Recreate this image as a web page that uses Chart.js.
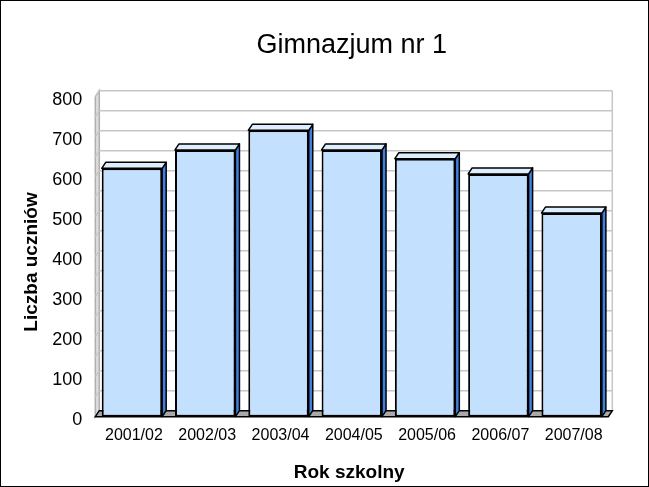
<!DOCTYPE html>
<html><head><meta charset="utf-8">
<script src="https://cdn.jsdelivr.net/npm/chart.js@4/dist/chart.umd.min.js"></script>
<style>html,body{margin:0;padding:0;background:#fff;overflow:hidden}canvas{display:block}</style>
</head><body>
<canvas id="c" width="649" height="487"></canvas>
<script>
const categories = ['2001/02', '2002/03', '2003/04', '2004/05', '2005/06', '2006/07', '2007/08'];
const students = [621, 667, 716, 667, 645, 607, 509];
const gridValues = [0, 50, 100, 150, 200, 250, 300, 350, 400, 450, 500, 550, 600, 650, 700, 750, 800];
const chartTitle = 'Gimnazjum nr 1';
const xTitle = 'Rok szkolny';
const yTitle = 'Liczba uczniów';

const FONT = "'Liberation Sans', Arial, sans-serif";
const DX = 4, DY = 6;

const box3d = {
  id: 'box3d',
  beforeDatasetsDraw(chart) {
    const {ctx, chartArea: a, scales: {y}} = chart;
    const yMax = y.max, yMin = y.min;
    const yb = v => y.getPixelForValue(v) - DY;
    const bl = a.left + DX, br = a.right + DX;
    ctx.save();
    // left wall
    ctx.beginPath();
    ctx.moveTo(a.left, y.getPixelForValue(yMin));
    ctx.lineTo(a.left, y.getPixelForValue(yMax));
    ctx.lineTo(bl, yb(yMax));
    ctx.lineTo(bl, yb(yMin));
    ctx.closePath();
    ctx.fillStyle = '#DCDCDC';
    ctx.fill();
    ctx.strokeStyle = '#B0B0B0';
    ctx.lineWidth = 1.5;
    ctx.stroke();
    // back wall gridlines
    ctx.strokeStyle = '#C6C6C6';
    ctx.lineWidth = 1.5;
    for (const v of gridValues) {
      ctx.beginPath();
      ctx.moveTo(a.left, y.getPixelForValue(v));
      ctx.lineTo(bl, yb(v));
      ctx.lineTo(br, yb(v));
      ctx.stroke();
    }
    ctx.beginPath();
    ctx.moveTo(br, yb(yMax));
    ctx.lineTo(br, yb(yMin));
    ctx.stroke();
    // floor
    ctx.beginPath();
    ctx.moveTo(a.left, y.getPixelForValue(yMin));
    ctx.lineTo(a.right, y.getPixelForValue(yMin));
    ctx.lineTo(br, yb(yMin));
    ctx.lineTo(bl, yb(yMin));
    ctx.closePath();
    ctx.fillStyle = '#A9A9A9';
    ctx.fill();
    ctx.strokeStyle = '#000';
    ctx.lineWidth = 1.5;
    ctx.stroke();
    ctx.restore();
  },
  afterDatasetsDraw(chart) {
    const {ctx} = chart;
    const meta = chart.getDatasetMeta(0);
    ctx.save();
    ctx.lineJoin = 'round';
    meta.data.forEach(bar => {
      const {x, y, base, width} = bar.getProps(['x', 'y', 'base', 'width'], true);
      const L = x - width / 2, R = x + width / 2;
      // side face
      ctx.beginPath();
      ctx.moveTo(R, y);
      ctx.lineTo(R + DX, y - DY);
      ctx.lineTo(R + DX, base - DY);
      ctx.lineTo(R, base);
      ctx.closePath();
      ctx.fillStyle = '#3F7FE0';
      ctx.fill();
      ctx.strokeStyle = '#000';
      ctx.lineWidth = 1.5;
      ctx.stroke();
      // top face
      ctx.beginPath();
      ctx.moveTo(L, y);
      ctx.lineTo(L + DX, y - DY);
      ctx.lineTo(R + DX, y - DY);
      ctx.lineTo(R, y);
      ctx.closePath();
      ctx.fillStyle = '#DDEFFF';
      ctx.fill();
      ctx.stroke();
    });
    ctx.restore();
  },
  afterDraw(chart) {
    const {ctx, width, height} = chart;
    ctx.save();
    ctx.strokeStyle = '#000';
    ctx.lineWidth = 1;
    ctx.strokeRect(0.5, 0.5, width - 1, height - 1);
    ctx.restore();
  }
};

new Chart(document.getElementById('c'), {
  type: 'bar',
  data: {
    labels: categories,
    datasets: [{
      data: students,
      backgroundColor: '#C3E1FE',
      borderColor: '#000',
      borderWidth: 2,
      borderSkipped: false,
      categoryPercentage: 1,
      barPercentage: 0.825
    }]
  },
  options: {
    responsive: false,
    animation: false,
    devicePixelRatio: 1,
    layout: {padding: {left: 0, right: 40.7, top: 0, bottom: 0}},
    plugins: {
      legend: {display: false},
      tooltip: {enabled: false},
      title: {
        display: true,
        text: chartTitle,
        fullSize: false,
        color: '#000',
        font: {family: FONT, size: 27, weight: 'normal', lineHeight: 1.2},
        padding: {top: 29, bottom: 35.3}
      }
    },
    scales: {
      x: {
        grid: {display: false, drawTicks: false},
        border: {display: false},
        ticks: {color: '#000', font: {family: FONT, size: 16}, padding: 9, labelOffset: 2, maxRotation: 0},
        title: {display: true, text: xTitle + ' ', color: '#000', font: {family: FONT, size: 19, weight: 'bold', lineHeight: 1.2}, padding: {top: 0, bottom: 3}},
        afterFit(s) { s.height = 70.3; }
      },
      y: {
        min: 0, max: 800,
        grid: {display: false, drawTicks: false},
        border: {display: false},
        ticks: {stepSize: 100, color: '#000', font: {family: FONT, size: 18}, padding: 13, labelOffset: 3},
        title: {display: true, text: yTitle + '  ', color: '#000', font: {family: FONT, size: 19, weight: 'bold', lineHeight: 1.2}, padding: {top: 20, bottom: 0}},
        afterFit(s) { s.width = 95.3; }
      }
    }
  },
  plugins: [box3d]
});
</script>
</body></html>
